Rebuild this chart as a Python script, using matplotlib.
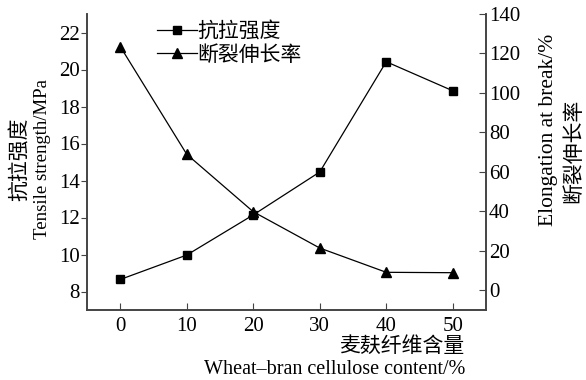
import matplotlib.pyplot as plt

plt.rcParams['font.family'] = ['Liberation Serif', 'Noto Sans CJK SC']
plt.rcParams['font.size'] = 12

# 麦麸纤维含量 (%)
content = [0, 10, 20, 30, 40, 50]
# 抗拉强度 (MPa)
tensile = [8.65, 9.97, 12.14, 14.46, 20.42, 18.85]
# 断裂伸长率 (%)
elongation = [123.5, 68.9, 39.8, 21.4, 9.1, 8.9]

fig = plt.figure(figsize=(5.86, 3.80), dpi=100)
ax = fig.add_axes([87 / 586, 70 / 380, 399 / 586, 296 / 380])
ax2 = ax.twinx()

l1, = ax.plot(content, tensile, '-s', color='black', lw=0.9, ms=6, label='抗拉强度')
l2, = ax2.plot(content, elongation, '-^', color='black', lw=0.9, ms=7, label='断裂伸长率')

ax.set_xlim(-5, 55)
ax.set_ylim(7, 23)
ax.set_xticks(content)
ax.set_yticks(range(8, 23, 2))
ax2.set_ylim(-10, 140)
ax2.set_yticks(range(0, 141, 20))

spine_col = '#444444'
for a in (ax, ax2):
    a.spines['top'].set_visible(False)
    for s in a.spines.values():
        s.set_color(spine_col)
        s.set_linewidth(1.2)
ax.tick_params(axis='y', direction='out', length=4, color=spine_col, labelsize=15, pad=1)
ax.tick_params(axis='x', direction='in', length=5, color=spine_col, labelsize=15, pad=5)
ax2.tick_params(axis='y', direction='in', length=5, color=spine_col, labelsize=15, pad=2)

# axis titles, Chinese and English lines placed separately
cjk = ['Noto Sans CJK SC']
fig.text(19 / 586, 1 - 159 / 380, '抗拉强度', rotation=90, ha='center', va='center',
         fontsize=15, family=cjk)
fig.text(43 / 586, 1 - 159 / 380, 'Tensile strength/MPa', rotation=90, ha='center', va='center',
         fontsize=13.5)
fig.text(548 / 586, 1 - 130 / 380, 'Elongation at break/%', rotation=90, ha='center', va='center',
         fontsize=15.5)
fig.text(573 / 586, 1 - 151 / 380, '断裂伸长率', rotation=90, ha='center', va='center',
         fontsize=15, family=cjk)
fig.text(465 / 586, 1 - 346 / 380, '麦麸纤维含量', ha='right', va='center',
         fontsize=15, family=cjk)
fig.text(465 / 586, 1 - 370 / 380, 'Wheat\u2013bran cellulose content/%', ha='right', va='center',
         fontsize=14.5)

leg = fig.legend(handles=[l1, l2], loc='upper left', bbox_to_anchor=(157 / 586, 1 - 20 / 380),
                 frameon=False, borderpad=0, borderaxespad=0, handlelength=1.9,
                 handletextpad=0.05, labelspacing=0.08,
                 prop={'family': 'Noto Sans CJK SC', 'size': 15})

fig.savefig('out.png', dpi=100)
plt.close(fig)
